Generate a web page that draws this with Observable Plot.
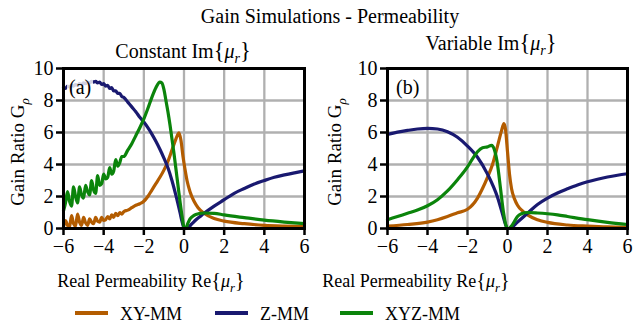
<!DOCTYPE html>
<html><head><meta charset="utf-8">
<script src="https://cdn.jsdelivr.net/npm/d3@7"></script>
<script src="https://cdn.jsdelivr.net/npm/@observablehq/plot@0.6"></script>
<style>
body{margin:0;background:#fff;}
#fig{position:relative;width:634px;height:330px;font-family:"Liberation Serif","Times New Roman","DejaVu Serif",serif;color:#000;overflow:hidden;background:#fff;}
#fig svg{position:absolute;top:0;}
.t{position:absolute;white-space:nowrap;line-height:1;}
.m{font-style:italic;}
.br{font-size:1.12em;}
</style></head><body><div id="fig"></div>
<script>
const seriesNames = ["XY-MM", "Z-MM", "XYZ-MM"];
const seriesColors = ["#b35c00", "#191970", "#0b840b"];
const xTicks = [-6, -4, -2, 0, 2, 4, 6];
const yTicks = [0, 2, 4, 6, 8, 10];
const panelTitles = ["Constant", "Variable"];
const panelTags = ["(a)", "(b)"];

// Panel (a): constant Im{mu_r}
const aXY = [[-6.0,0.1],[-5.9,0.5],[-5.8,0.2],[-5.7,0.1],[-5.6,0.8],[-5.5,0.3],[-5.4,0.15],[-5.3,0.9],[-5.2,0.4],[-5.1,0.2],[-5.0,0.7],[-4.9,0.35],[-4.8,0.2],[-4.7,0.6],[-4.6,0.4],[-4.5,0.3],[-4.4,0.7],[-4.3,0.45],[-4.2,0.4],[-4.1,0.7],[-4.0,0.5],[-3.9,0.55],[-3.8,0.75],[-3.7,0.6],[-3.6,0.85],[-3.5,0.7],[-3.4,0.95],[-3.3,0.8],[-3.2,1.0],[-3.1,0.9],[-3.0,1.05],[-2.8,1.15],[-2.6,1.3],[-2.4,1.45],[-2.2,1.55],[-2.0,1.7],[-1.8,2.0],[-1.6,2.4],[-1.4,2.8],[-1.2,3.2],[-1.0,3.65],[-0.8,4.2],[-0.6,4.9],[-0.4,5.6],[-0.3,5.9],[-0.25,5.98],[-0.15,5.5],[-0.05,4.5],[0.05,3.7],[0.15,3.0],[0.3,2.3],[0.5,1.7],[0.7,1.3],[1.0,0.95],[1.5,0.62],[2.0,0.46],[3.0,0.3],[4.0,0.2],[5.0,0.15],[6.0,0.12]];
const aZ = [[-6.0,8.8],[-5.9,8.75],[-5.8,8.9],[-5.7,8.85],[-5.6,8.95],[-5.5,8.9],[-5.4,9.0],[-5.3,8.95],[-5.2,9.05],[-5.1,9.0],[-5.0,9.1],[-4.9,9.05],[-4.8,9.15],[-4.7,9.1],[-4.6,9.2],[-4.5,9.15],[-4.4,9.2],[-4.3,9.1],[-4.2,9.15],[-4.1,9.0],[-4.0,9.05],[-3.9,8.9],[-3.8,8.95],[-3.7,8.75],[-3.6,8.8],[-3.5,8.6],[-3.4,8.6],[-3.3,8.45],[-3.2,8.45],[-3.1,8.25],[-3.0,8.2],[-2.8,7.9],[-2.6,7.6],[-2.4,7.3],[-2.2,6.95],[-2.0,6.65],[-1.8,6.3],[-1.6,5.9],[-1.4,5.45],[-1.2,4.95],[-1.0,4.4],[-0.8,3.8],[-0.6,3.0],[-0.4,2.05],[-0.2,1.0],[-0.1,0.45],[0.0,0.05],[0.1,0.0],[0.2,0.05],[0.4,0.3],[0.6,0.55],[0.8,0.75],[1.0,0.95],[1.5,1.4],[2.0,1.8],[2.5,2.2],[3.0,2.5],[3.5,2.78],[4.0,3.0],[4.5,3.2],[5.0,3.35],[5.5,3.48],[6.0,3.6]];
const aXYZ = [[-6.0,1.1],[-5.9,1.6],[-5.8,2.3],[-5.7,1.7],[-5.6,1.4],[-5.5,2.6],[-5.4,2.0],[-5.3,1.6],[-5.2,2.6],[-5.1,2.1],[-5.0,1.9],[-4.9,2.7],[-4.8,2.3],[-4.7,2.1],[-4.6,3.0],[-4.5,2.4],[-4.4,2.2],[-4.3,3.3],[-4.2,2.7],[-4.1,2.8],[-4.0,3.4],[-3.9,3.1],[-3.8,3.2],[-3.7,3.8],[-3.6,3.4],[-3.5,3.6],[-3.4,4.3],[-3.3,3.9],[-3.2,4.1],[-3.1,4.5],[-3.0,4.5],[-2.8,4.9],[-2.6,5.3],[-2.4,5.8],[-2.2,6.3],[-2.0,6.85],[-1.8,7.5],[-1.6,8.2],[-1.4,8.8],[-1.2,9.15],[-1.1,9.1],[-1.0,8.7],[-0.9,8.0],[-0.8,7.3],[-0.7,6.5],[-0.6,5.6],[-0.5,4.7],[-0.4,3.7],[-0.3,2.7],[-0.2,1.7],[-0.1,0.8],[0.0,0.1],[0.1,0.05],[0.2,0.35],[0.3,0.6],[0.5,0.82],[0.75,0.93],[1.0,0.97],[1.5,0.95],[2.0,0.85],[3.0,0.68],[4.0,0.52],[5.0,0.4],[6.0,0.3]];

// Panel (b): variable Im{mu_r}
const bXY = [[-6,0.15],[-5,0.25],[-4,0.4],[-3.5,0.55],[-3,0.75],[-2.5,0.98],[-2,1.2],[-1.5,1.9],[-1.25,2.5],[-1,3.2],[-0.75,4.0],[-0.5,5.15],[-0.3,6.1],[-0.18,6.55],[-0.1,6.2],[0,4.8],[0.1,3.4],[0.2,2.5],[0.35,1.85],[0.5,1.45],[0.75,1.1],[1,0.85],[1.5,0.55],[2,0.38],[3,0.22],[4,0.15],[5,0.1],[6,0.08]];
const bZ = [[-6,5.88],[-5.5,6.02],[-5,6.13],[-4.5,6.22],[-4,6.26],[-3.5,6.22],[-3,6.05],[-2.5,5.7],[-2,5.15],[-1.5,4.45],[-1,3.4],[-0.5,1.95],[-0.25,0.9],[-0.1,0.25],[0,0.0],[0.1,0.0],[0.2,0.05],[0.5,0.4],[1,0.95],[1.5,1.5],[2,1.9],[2.5,2.22],[3,2.48],[3.5,2.72],[4,2.92],[4.5,3.08],[5,3.22],[5.5,3.33],[6,3.42]];
const bXYZ = [[-6,0.55],[-5.5,0.75],[-5,0.95],[-4.5,1.15],[-4,1.42],[-3.5,1.8],[-3,2.35],[-2.5,3.05],[-2,3.85],[-1.75,4.35],[-1.5,4.8],[-1.25,5.05],[-1.0,5.1],[-0.8,5.2],[-0.65,4.9],[-0.5,4.0],[-0.35,2.5],[-0.2,1.0],[-0.05,0.1],[0.05,0.0],[0.2,0.15],[0.35,0.45],[0.5,0.75],[0.7,0.92],[1.0,1.0],[1.5,0.97],[2,0.92],[2.5,0.85],[3,0.75],[4,0.55],[5,0.38],[6,0.25]];

const panels = [[aXY, aZ, aXYZ], [bXY, bZ, bXYZ]];

const fig = document.getElementById("fig");
const minus = d => (d < 0 ? "\u2212" : "") + Math.abs(d);

function addText(html, cls, style) {
  const d = document.createElement("div");
  d.className = "t " + (cls || "");
  d.innerHTML = html;
  Object.assign(d.style, style);
  fig.appendChild(d);
  return d;
}

const layout = [
  {left: 0, width: 317, ml: 63, mr: 13},
  {left: 317, width: 317, ml: 70, mr: 7}
];

panels.forEach((series, p) => {
  const rows = [];
  series.forEach((pts, s) => pts.forEach(([x, y]) => rows.push({x, y, s: seriesNames[s]})));
  const L = layout[p];
  const svg = Plot.plot({
    width: L.width, height: 330,
    marginLeft: L.ml, marginRight: L.mr, marginTop: 68, marginBottom: 102,
    style: {fontFamily: "'Liberation Serif', 'Times New Roman', serif", fontSize: "20px", background: "transparent", color: "black"},
    x: {domain: [-6, 6], ticks: xTicks, tickFormat: minus, tickSize: 7, tickPadding: 3, label: null},
    y: {domain: [0, 10], ticks: yTicks, tickFormat: minus, tickSize: 7, tickPadding: 3, label: null},
    color: {domain: seriesNames, range: seriesColors},
    marks: [
      Plot.ruleX(xTicks, {stroke: "#b0b0b0", strokeWidth: 2.3}),
      Plot.ruleY(yTicks, {stroke: "#b0b0b0", strokeWidth: 2.3}),
      Plot.line(rows, {x: "x", y: "y", z: "s", stroke: "s", strokeWidth: 3.2, curve: "monotone-x"}),
      Plot.frame({stroke: "black", strokeWidth: 3})
    ]
  });
  svg.style.left = L.left + "px";
  d3.select(svg).selectAll("g[aria-label*='axis'] line, g[aria-label*='axis'] path")
    .attr("stroke-width", 2.5).attr("stroke", "black");
  fig.appendChild(svg);
});

// Titles and labels
addText("Gain Simulations - Permeability", "", {fontSize: "20px", left: "330px", top: "6px", transform: "translateX(-50%)"});
const subTop = [40, 32];
const subCx = [183, 491];
panelTitles.forEach((t, i) => {
  addText(t + " Im<span class='br'>{</span><span class='m'>μ<sub style='font-size:0.7em'>r</sub></span><span class='br'>}</span>", "",
    {fontSize: "20px", left: subCx[i] + "px", top: subTop[i] + "px", transform: "translateX(-50%)"});
});
const xlCx = [151, 416];
xlCx.forEach(cx => addText("Real Permeability Re<span class='br'>{</span><span class='m'>μ<sub style='font-size:0.7em'>r</sub></span><span class='br'>}</span>", "",
  {fontSize: "18px", left: cx + "px", top: "270px", transform: "translateX(-50%)"}));
const ylCx = [20, 337];
ylCx.forEach(cx => addText("Gain Ratio G<sub class='m' style='font-size:0.7em'>ρ</sub>", "",
  {fontSize: "19px", left: cx + "px", top: "152px", transform: "translate(-50%,-50%) rotate(-90deg)"}));
const tagX = [67, 394];
panelTags.forEach((t, i) => addText(t, "", {fontSize: "20px", left: tagX[i] + "px", top: "76px", padding: "1px 2px", background: i === 0 ? "rgba(255,255,255,0.8)" : "transparent"}));

// Legend
const legX = [75, 215, 340];
seriesNames.forEach((n, i) => {
  const sw = document.createElement("div");
  Object.assign(sw.style, {position: "absolute", left: legX[i] + "px", top: "311px", width: "33px", height: "3.5px", background: seriesColors[i]});
  fig.appendChild(sw);
  addText(n, "", {fontSize: "18px", left: (legX[i] + 45) + "px", top: "305px"});
});
</script></body></html>
